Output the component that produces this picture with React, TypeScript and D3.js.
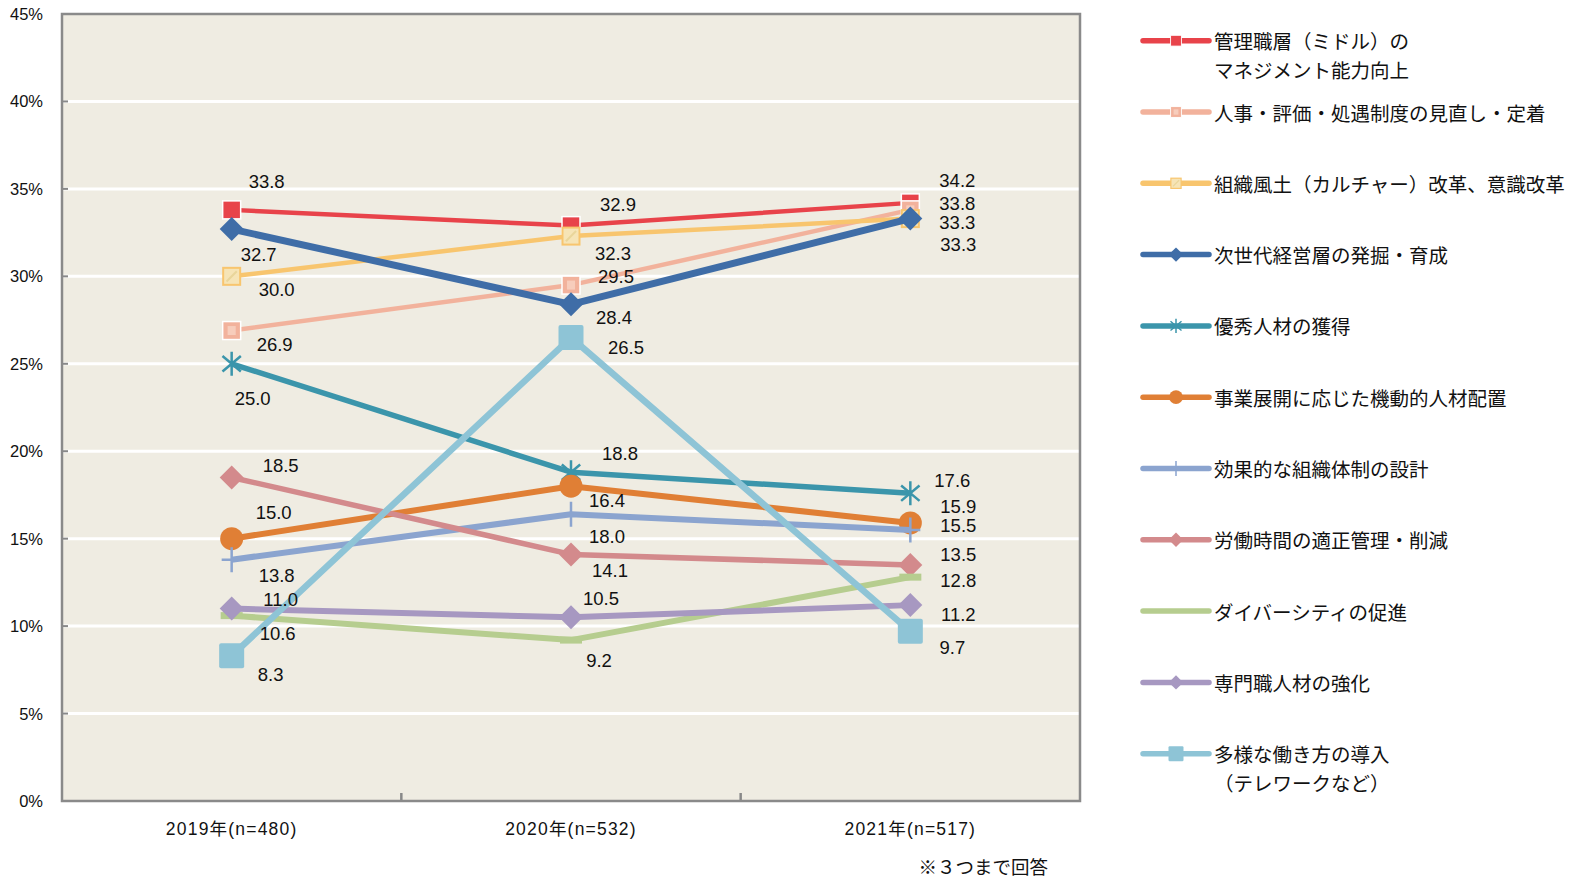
import React from "react";
import * as d3 from "d3";

// Survey years (x categories) and percent ticks
const categories = ["2019年(n=480)", "2020年(n=532)", "2021年(n=517)"];
const yTicks = [0, 5, 10, 15, 20, 25, 30, 35, 40, 45];

// Series labels (legend order = draw order)
const seriesNames = [
  ["管理職層（ミドル）の", "マネジメント能力向上"],
  ["人事・評価・処遇制度の見直し・定着"],
  ["組織風土（カルチャー）改革、意識改革"],
  ["次世代経営層の発掘・育成"],
  ["優秀人材の獲得"],
  ["事業展開に応じた機動的人材配置"],
  ["効果的な組織体制の設計"],
  ["労働時間の適正管理・削減"],
  ["ダイバーシティの促進"],
  ["専門職人材の強化"],
  ["多様な働き方の導入", "（テレワークなど）"],
];

// Percent values per series, 2019 / 2020 / 2021
const middleMgmt = [33.8, 32.9, 34.2];
const evaluationSystem = [26.9, 29.5, 33.8];
const cultureReform = [30.0, 32.3, 33.3];
const nextLeaders = [32.7, 28.4, 33.3];
const talentAcquisition = [25.0, 18.8, 17.6];
const flexibleDeployment = [15.0, 18.0, 15.9];
const orgDesign = [13.8, 16.4, 15.5];
const workingHours = [18.5, 14.1, 13.5];
const diversity = [10.6, 9.2, 12.8];
const specialists = [11.0, 10.5, 11.2];
const workStyles = [8.3, 26.5, 9.7];

const seriesValues = [
  middleMgmt, evaluationSystem, cultureReform, nextLeaders, talentAcquisition,
  flexibleDeployment, orgDesign, workingHours, diversity, specialists, workStyles,
];

type MarkerKind = "square" | "hatchSquare" | "frameSquare" | "diamond" | "asterisk" | "circle" | "plus" | "dash" | "bigSquare";

const styles: { color: string; width: number; marker: MarkerKind }[] = [
  { color: "#e8434a", width: 4.5, marker: "square" },
  { color: "#f2b29c", width: 4.5, marker: "hatchSquare" },
  { color: "#f8c56e", width: 4.5, marker: "frameSquare" },
  { color: "#3f6da7", width: 7, marker: "diamond" },
  { color: "#3b95ab", width: 5.5, marker: "asterisk" },
  { color: "#e07f35", width: 6, marker: "circle" },
  { color: "#8ba4cf", width: 6, marker: "plus" },
  { color: "#d38a8c", width: 5.5, marker: "diamond" },
  { color: "#b6cd8f", width: 6, marker: "dash" },
  { color: "#a798c1", width: 6, marker: "diamond" },
  { color: "#8ec4d6", width: 6.5, marker: "bigSquare" },
];

// Label placement (dx, dy from each point) per series and year
const labelOffsets: [number, number][][] = [
  [[35, -28], [47, -21], [47, -22]],
  [[43, 14], [45, -9], [47, -6.6]],
  [[45, 13.6], [42, 17.6], [47, 3.7]],
  [[27, 25.6], [43, 13], [48, 26]],
  [[21, 35], [49, -19], [42, -12.7]],
  [[42, -26], [36, 50.7], [48, -16]],
  [[45, 15.6], [36, -13.5], [48, -4]],
  [[49, -12], [39, 16], [48, -10]],
  [[46, 18], [28, 20], [48, 3]],
  [[49, -9], [30, -19], [48, 9.5]],
  [[39, 19], [55, 10], [42, 16.6]],
];

const W = 1580;
const H = 879;
const plot = { left: 62, right: 1080, top: 14, bottom: 801 };

const NUM_FONT = "'Liberation Sans', Arial, 'Noto Sans CJK JP', sans-serif";
const JP_FONT = "'Noto Sans CJK JP', 'Liberation Sans', sans-serif";

function Marker({ kind, x, y, color, s = 1 }: { kind: MarkerKind; x: number; y: number; color: string; s?: number }) {
  switch (kind) {
    case "square": {
      const h = 9 * s;
      return <rect x={x - h} y={y - h} width={2 * h} height={2 * h} fill={color} stroke="#fff" strokeWidth={1.5 * s} />;
    }
    case "hatchSquare": {
      const h = 9 * s;
      return (
        <g>
          <rect x={x - h} y={y - h} width={2 * h} height={2 * h} fill={color} stroke="#fff" strokeWidth={1.5 * s} />
          <rect x={x - h * 0.45} y={y - h * 0.5} width={h * 0.9} height={h} fill="#f7d3c4" opacity={0.8} />
        </g>
      );
    }
    case "frameSquare": {
      const h = 8.5 * s;
      return (
        <g>
          <rect x={x - h} y={y - h} width={2 * h} height={2 * h} fill="#f6e4b6" stroke={color} strokeWidth={2 * s} />
          <path d={`M${x - h * 0.6},${y + h * 0.6}L${x + h * 0.6},${y - h * 0.6}`} stroke="#e9d59a" strokeWidth={2 * s} />
        </g>
      );
    }
    case "diamond": {
      const h = 12 * s;
      return <path d={`M${x},${y - h}L${x + h},${y}L${x},${y + h}L${x - h},${y}Z`} fill={color} />;
    }
    case "asterisk": {
      const r = 12 * s;
      const a = (40 * Math.PI) / 180;
      const dx = r * Math.cos(a);
      const dy = r * Math.sin(a);
      return (
        <path
          d={`M${x},${y - r}L${x},${y + r}M${x - dx},${y - dy}L${x + dx},${y + dy}M${x - dx},${y + dy}L${x + dx},${y - dy}`}
          stroke={color}
          strokeWidth={2.5 * s}
          fill="none"
        />
      );
    }
    case "circle":
      return <circle cx={x} cy={y} r={11.5 * s} fill={color} />;
    case "plus": {
      const v = 12.5 * s;
      const hz = 10 * s;
      return <path d={`M${x},${y - v}L${x},${y + v}M${x - hz},${y}L${x + hz},${y}`} stroke={color} strokeWidth={2.5 * s} fill="none" />;
    }
    case "dash": {
      const w = 11 * s;
      return <rect x={x - w} y={y - 3.5 * s} width={2 * w} height={7 * s} fill={color} />;
    }
    case "bigSquare": {
      const h = 12.5 * s;
      return <rect x={x - h} y={y - h} width={2 * h} height={2 * h} rx={2 * s} fill={color} />;
    }
  }
  return null;
}

export default function App() {
  const x = d3.scaleBand<string>().domain(categories).range([plot.left, plot.right]).padding(0);
  const y = d3.scaleLinear().domain([0, 45]).range([plot.bottom, plot.top]);
  const cx = (c: string) => (x(c) as number) + x.bandwidth() / 2;
  const line = d3
    .line<number>()
    .x((_, i) => cx(categories[i]))
    .y((v) => y(v));

  const legendX0 = 1143;
  const legendX1 = 1209;
  const legendMid = (legendX0 + legendX1) / 2;
  const legendY = (i: number) => 40.7 + i * 71.3;

  return (
    <svg width={W} height={H} style={{ position: "absolute", left: 0, top: 0, background: "#fff" }}>
      {/* plot background */}
      <rect x={plot.left} y={plot.top} width={plot.right - plot.left} height={plot.bottom - plot.top} fill="#efece2" />

      {/* horizontal gridlines */}
      {yTicks.slice(1, -1).map((t) => (
        <line key={t} x1={plot.left} x2={plot.right} y1={y(t)} y2={y(t)} stroke="#fff" strokeWidth={3} />
      ))}

      {/* y tick marks and labels */}
      {yTicks.map((t) => (
        <g key={t}>
          <line x1={plot.left} x2={plot.left + 6} y1={y(t)} y2={y(t)} stroke="#888" strokeWidth={2} />
          <text x={43} y={y(t)} textAnchor="end" dominantBaseline="central" fontFamily={NUM_FONT} fontSize={16.5} fill="#111">
            {t}%
          </text>
        </g>
      ))}

      {/* x tick marks at category boundaries */}
      {categories.slice(1).map((c) => (
        <line key={c} x1={x(c) as number} x2={x(c) as number} y1={plot.bottom} y2={plot.bottom - 8} stroke="#888" strokeWidth={2.5} />
      ))}

      {/* frame */}
      <rect x={plot.left} y={plot.top} width={plot.right - plot.left} height={plot.bottom - plot.top} fill="none" stroke="#8a8a8a" strokeWidth={2.5} />

      {/* x labels */}
      {categories.map((c) => (
        <text key={c} x={cx(c)} y={829} textAnchor="middle" dominantBaseline="central" fontFamily={NUM_FONT} fontSize={17.5} letterSpacing={1.2} fill="#111">
          {c}
        </text>
      ))}

      {/* series lines and markers */}
      {seriesValues.map((vals, si) => {
        const st = styles[si];
        return (
          <g key={si}>
            <path d={line(vals) || ""} fill="none" stroke={st.color} strokeWidth={st.width} strokeLinejoin="round" />
            {vals.map((v, i) => (
              <Marker key={i} kind={st.marker} x={cx(categories[i])} y={y(v)} color={st.color} />
            ))}
          </g>
        );
      })}

      {/* value labels */}
      {seriesValues.map((vals, si) =>
        vals.map((v, i) => {
          const [dx, dy] = labelOffsets[si][i];
          return (
            <text
              key={`${si}-${i}`}
              x={cx(categories[i]) + dx}
              y={y(v) + dy}
              textAnchor="middle"
              dominantBaseline="central"
              fontFamily={NUM_FONT}
              fontSize={18.5}
              fill="#111"
            >
              {v.toFixed(1)}
            </text>
          );
        })
      )}

      {/* legend */}
      {seriesNames.map((lines, si) => {
        const st = styles[si];
        const ly = legendY(si);
        return (
          <g key={si}>
            <line x1={legendX0} x2={legendX1} y1={ly} y2={ly} stroke={st.color} strokeWidth={5.5} strokeLinecap="round" />
            {st.marker !== "dash" && <Marker kind={st.marker} x={legendMid} y={ly} color={st.color} s={0.6} />}
            {lines.map((t, li) => (
              <text key={li} x={1214} y={ly + li * 29} dominantBaseline="central" fontFamily={JP_FONT} fontSize={19.5} fill="#111">
                {t}
              </text>
            ))}
          </g>
        );
      })}

      {/* footnote */}
      <text x={1048} y={866} textAnchor="end" dominantBaseline="central" fontFamily={JP_FONT} fontSize={18.5} fill="#111">
        ※３つまで回答
      </text>
    </svg>
  );
}
